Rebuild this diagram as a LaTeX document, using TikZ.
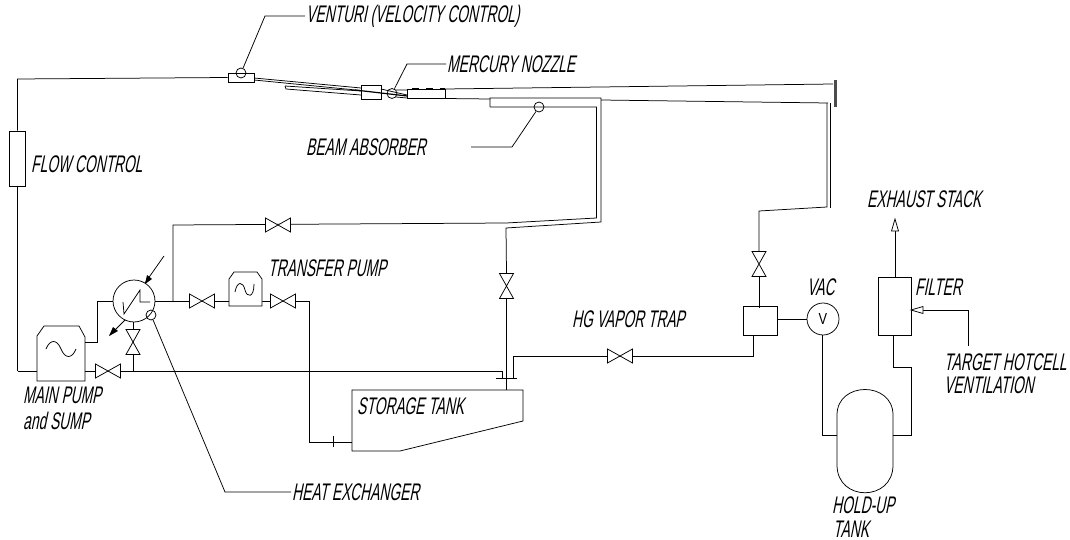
\documentclass[tikz,border=0pt]{standalone}
\usepackage{fontspec}
\newfontfamily\lbl[FakeSlant=0.2,FakeStretch=0.575]{Liberation Sans}
\newfontfamily\vlbl[FakeStretch=0.8]{Liberation Sans}
\tikzset{
 lab/.style={inner sep=0pt,anchor=west,font=\lbl\fontsize{24}{24}\selectfont,text=black},
 pipe/.style={draw=black,line width=0.75pt},
 valveh/.pic={\draw[pipe,fill=white] (-12.5,-7)--(12.5,7)--(12.5,-7)--(-12.5,7)--cycle;},
 valvev/.pic={\draw[pipe,fill=white] (-7,-12.5)--(7,12.5)--(-7,12.5)--(7,-12.5)--cycle;},
 opentip/.pic={\draw[pipe,fill=white] (0,0)--(-12,-3.5)--(-12,3.5)--cycle;},
}
\begin{document}
\begin{tikzpicture}[x=1pt,y=-1pt,line join=miter]
\useasboundingbox (0,0) rectangle (1070,540);
% main loop left
\coordinate (lf) at (17.5,371);
\coordinate (lt) at (17.5,79);
\node[pipe,minimum width=16pt,minimum height=55pt,inner sep=0pt,fill=white] (flow) at (17.5,158.5) {};
\node[pipe,minimum width=26pt,minimum height=9pt,inner sep=0pt] (vent) at (241,77.5) {};
\draw[pipe] (vent.west) -- (lt) -- (flow.north);
\draw[pipe] (flow.south) -- (lf);
\node[pipe,circle,minimum size=10pt,inner sep=0pt] (ventc) at (241,73) {};
\coordinate (v1) at (265,16); \coordinate (v2) at (305,16);
\draw[pipe] (ventc) -- (v1) -- (v2);
\node[lab] (tvent) at (306,16) {VENTURI (VELOCITY CONTROL)};
% nozzle feed
\node[pipe,minimum width=20pt,minimum height=14pt,inner sep=0pt] (nbox) at (371,92.5) {};
\draw[pipe] (254,78)--(361,88) (254,80)--(361,90.5);
\draw[pipe] (285,86)--(286,89)--(361,95) (285,86)--(361,91);
\draw[pipe,line width=1.2pt] (355,90)--(407,96);
\node[pipe,circle,minimum size=10pt,inner sep=0pt] (nozc) at (392,93.5) {};
\draw[pipe] (381,89)--(407,95) (396,90)--(407,90) (396,97)--(407,98);
\coordinate (n1) at (407,64);\coordinate (n2) at (446,64);
\draw[pipe] (nozc) -- (n1) -- (n2);
\node[lab] at (447,64) {MERCURY NOZZLE};
\draw[pipe] (407,89) rectangle (445,98.5);
\draw[black,line width=1.5pt,dash pattern=on 7pt off 7pt] (412,89)--(445,89);
% target
\draw[pipe] (445,89)--(833,84);
\draw[pipe] (445,98.5)--(490,99) (601,100)--(828,103);
\draw[black!70,line width=3pt] (835,80)--(835,107);
\draw[pipe] (827,103)--(827,207)--(759,211)--(759,251);
\draw[pipe] (830,103)--(830,208);
% absorber
\draw[pipe] (490,107)--(490,98)--(601,98)--(601,222)--(506,228)--(506.5,273);
\draw[pipe] (490,107)--(596.5,107)--(596.5,218)--(506,223)--(173,225)--(173,301);
\node[pipe,circle,minimum size=10pt,inner sep=0pt] (absc) at (539,107) {};
\coordinate (a1) at (512,147); \coordinate (a2) at (471,147);
\draw[pipe] (absc) -- (a1) -- (a2);
\node[lab] at (306,147) {BEAM ABSORBER};
\node[lab] at (31,164) {FLOW CONTROL};
\pic at (278,225) {valveh};
\pic at (506.5,286) {valvev};
\draw[pipe] (506.5,299)--(506.5,390);
\draw[pipe] (496,378)--(517,378);
\draw[pipe] (513,378)--(513,356)--(753,356)--(753,335);
\pic at (620,356) {valveh};
\node[lab] at (572,319) {HG VAPOR TRAP};
% storage tank
\draw[pipe] (352,390)--(523,390)--(523,421)--(400,451)--(352,451)--cycle;
\node[lab] at (357,406) {STORAGE TANK};
\draw[pipe] (309,301)--(309,442)--(352,442);
\draw[pipe] (333,436)--(333,447);
% main pump
\draw[pipe] (37,381)--(37,336)--(44,326)--(79,326)--(85,337)--(85,381)--cycle;
\draw[pipe] (46,349) .. controls (50,339) and (57,339) .. (61,349) .. controls (65,359) and (72,359) .. (76,349);
\draw[pipe] (17.5,371)--(37,371);
\draw[pipe] (85,371)--(502,371)--(502,378);
\pic at (108,371) {valveh};
\draw[pipe] (85,342)--(97,342)--(97,301)--(113,301);
\node[lab] at (23,395) {MAIN PUMP};
\node[lab] at (23,421) {and SUMP};
% HX
\node[pipe,circle,minimum size=42pt,inner sep=0pt] (hx) at (134,301) {};
\draw[pipe] (123,302)--(124,314)--(140,290)--(140,302)--(150,302);
\draw[pipe] (164,256)--(145,283);
\fill (145,284)--(147,275)--(152,279)--cycle;
\draw[pipe] (125,320)--(110,335);
\fill (109,336)--(113,327)--(118,331)--cycle;
\draw[pipe] (133,322)--(133,371);
\pic at (133,342) {valvev};
\draw[pipe] (155,301)--(309,301);
\pic at (202,301) {valveh};
\pic at (283,301) {valveh};
\draw[pipe,fill=white] (229,306)--(229,279)--(234,272)--(257,272)--(262,279)--(262,306)--cycle;
\draw[pipe] (235,292) .. controls (237,281) and (243,281) .. (245,290) .. controls (247,298) and (254,298) .. (254,284);
\node[lab] at (268,268) {TRANSFER PUMP};
\node[pipe,circle,minimum size=10pt,inner sep=0pt] (hxc) at (151,315) {};
\coordinate (h1) at (225,492);\coordinate (h2) at (291,492);
\draw[pipe] (hxc) -- (h1) -- (h2);
\node[lab] at (292,492) {HEAT EXCHANGER};
% right side
\pic at (759,264) {valvev};
\draw[pipe] (759,276)--(759,308);
\node[pipe,minimum width=34pt,minimum height=29pt,inner sep=0pt] (trap) at (760,320.5) {};
\node[pipe,circle,minimum size=32pt,inner sep=0pt,font=\vlbl\fontsize{16}{16}\selectfont] (vac) at (823,319) {V};
\draw[pipe] (trap.east |- vac) -- (vac);
\node[lab] at (807,287) {VAC};
\draw[pipe] (822,335)--(822,435)--(837,435);
\draw[pipe] (837,415) .. controls (837,381) and (893,381) .. (893,415)--(893,465) .. controls (893,502) and (837,502) .. (837,465)--cycle;
\draw[pipe] (893,335)--(893,367)--(911,367)--(911,435)--(893,435);
\node[lab] at (832,505) {HOLD-UP};
\node[lab] at (833,529) {TANK};
\node[pipe,minimum width=33pt,minimum height=58pt,inner sep=0pt] (filt) at (894.5,306) {};
\node[lab] at (915,287) {FILTER};
\draw[pipe] (895,277)--(895,231);
\pic[rotate=90] at (895,219) {opentip};
\coordinate (t1) at (968,310);\coordinate (t2) at (968,346);
\draw[pipe] (t2)--(t1)--(923,310);
\pic[rotate=180] at (911,310) {opentip};
\node[lab] at (867,199) {EXHAUST STACK};
\node[lab] at (944,362) {TARGET HOTCELL};
\node[lab] at (944,385) {VENTILATION};
\end{tikzpicture}
\end{document}
